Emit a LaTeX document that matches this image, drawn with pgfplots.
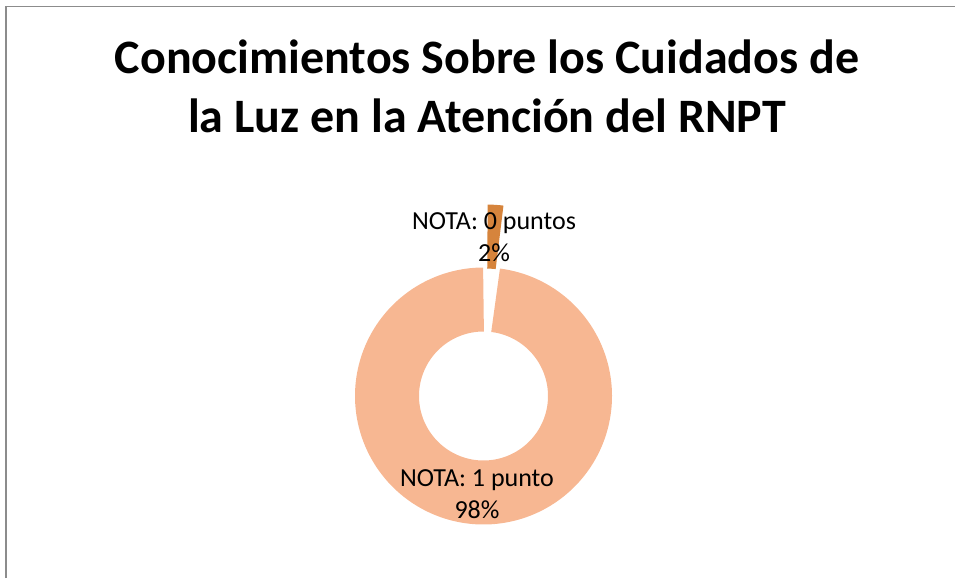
\documentclass[border=0pt]{standalone}
\usepackage{fontspec}
\setmainfont{Carlito}
\usepackage{pgfplots}
\usepackage{pgfplotstable}
\usepgfplotslibrary{polar}
\pgfplotsset{compat=1.18}
\definecolor{bigslice}{HTML}{F7B792}
\definecolor{smallslice}{HTML}{D6843C}
\definecolor{frame}{HTML}{8C8C8C}
\pgfplotstableread{
label value
0 2
1 98
}\datatable
\pgfplotstablegetelem{0}{value}\of\datatable \let\vsmall\pgfplotsretval
\pgfplotstablegetelem{1}{value}\of\datatable \let\vbig\pgfplotsretval
\pgfmathsetmacro{\smallstart}{90-3.6*\vsmall}
\pgfmathsetmacro{\bigend}{90+3.6*\vbig}
\begin{document}
\begin{tikzpicture}[x=1pt,y=-1pt]
\useasboundingbox (0,0) rectangle (955,578);
\draw[color=frame, line width=1.5pt] (6,578) -- (6,6.5) -- (955,6.5);
\begin{polaraxis}[at={(483.5pt,-396pt)}, anchor=origin, scale only axis,
  width=400pt, height=400pt, xmin=0, xmax=360, ymin=0, ymax=200,
  hide axis, clip=false]
\addplot[draw=bigslice, line width=64pt, domain=90:\bigend, samples=300, no markers] {96.5};
\addplot[draw=smallslice, line width=64pt, domain=\smallstart:90, samples=20, no markers, shift={(3.96pt,62.9pt)}] {96.5};
\end{polaraxis}
\node[anchor=base, inner sep=0, font=\fontsize{48}{58}\selectfont\bfseries] at (487,73.5) {Conocimientos Sobre los Cuidados de};
\node[anchor=base, inner sep=0, font=\fontsize{48}{58}\selectfont\bfseries] at (487,132.5) {la Luz en la Atención del RNPT};
\node[anchor=base, inner sep=0, font=\fontsize{26}{32}\selectfont] at (494,229) {NOTA: 0 puntos};
\node[anchor=base, inner sep=0, font=\fontsize{26}{32}\selectfont] at (494,261.5) {2\%};
\node[anchor=base, inner sep=0, font=\fontsize{26}{32}\selectfont] at (477,486) {NOTA: 1 punto};
\node[anchor=base, inner sep=0, font=\fontsize{26}{32}\selectfont] at (477,518) {98\%};
\end{tikzpicture}
\end{document}
